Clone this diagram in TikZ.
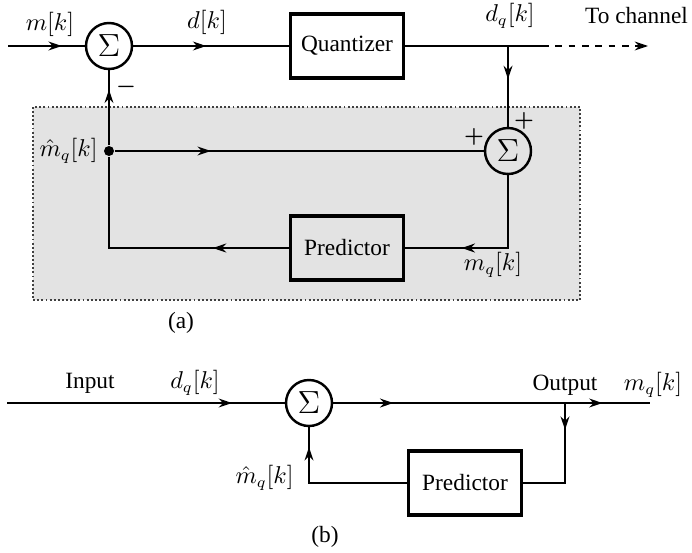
\documentclass[tikz,border=0pt]{standalone}
\usepackage{amsmath}
\usepackage{fontspec}
\setmainfont{Liberation Serif}
\usetikzlibrary{arrows.meta,decorations.markings}

\begin{document}
\begin{tikzpicture}[x=0.45pt, y=-0.45pt, line width=0.85pt, font=\fontsize{10.5}{12.5}\selectfont,
      box/.style={draw, rectangle, line width=1.6pt, minimum width=51pt, minimum height=29pt, text centered},
      sum/.style={draw, circle, line width=1.1pt, minimum size=20.7pt, inner sep=0pt, font=\fontsize{14}{16}\selectfont},
      tap/.style={circle, fill, inner sep=0pt, minimum size=4.5pt},
      sign/.style={font=\fontsize{10}{12}\selectfont\bfseries, inner sep=0pt},
      midarr/.style={postaction={decorate}, decoration={markings, mark=at position #1 with {\arrow{Stealth[length=6pt, width=4pt]}}}},
      twoarr/.style 2 args={postaction={decorate}, decoration={markings,
        mark=at position #1 with {\arrow{Stealth[length=6pt, width=4pt]}},
        mark=at position #2 with {\arrow{Stealth[length=6pt, width=4pt]}}}}]
      \useasboundingbox (0,0) rectangle (692,552);
      \fill[black!11, draw=black!75, densely dotted] (33,107) rectangle (580,300);

      \node (sumA) [sum] at (109,46) {$\Sigma$};
      \node (quant) [box] at (347,46) {Quantizer};
      \node (sumB) [sum] at (508,151) {$\Sigma$};
      \node (predA) [box] at (347,248) {Predictor};
      \node (tapA) [tap] at (109,151) {};
      \coordinate (inA) at (8,46);
      \coordinate (splitA) at (508,46);
      \coordinate (dashA) at (542,46);
      \coordinate (outA) at (648,46);
      \coordinate (cornerA) at (508,248);
      \coordinate (cornerB) at (109,248);

      \draw[midarr=0.7] (inA) -- (sumA);
      \draw[midarr=0.47] (sumA) -- (quant);
      \draw (quant) -- (dashA);
      \draw[dashed, -{Stealth[length=6pt, width=4pt]}] (dashA) -- (outA);
      \draw[midarr=0.41] (splitA) -- (sumB);
      \draw[midarr=0.74] (tapA) -- (sumA);
      \draw[midarr=0.26] (tapA) -- (sumB);
      \draw[midarr=0.68] (sumB) -- (cornerA) -- (predA);
      \draw[midarr=0.28] (predA) -- (cornerB) -- (tapA);

      \node at (50,24) {$m[k]$};
      \node at (207,22) {$d[k]$};
      \node at (510,16) {$d_q[k]$};
      \node [anchor=east, inner sep=1pt] at (691,16) {To channel};
      \node [sign] at (126,87) {$\boldsymbol{-}$};
      \node [left, inner sep=2pt] at (tapA.west) {$\hat{m}_q[k]$};
      \node [sign] at (474,137) {$\boldsymbol{+}$};
      \node [sign] at (524,121) {$\boldsymbol{+}$};
      \node at (493,265) {$m_q[k]$};
      \node at (181,323) {(a)};

      \node (sumC) [sum] at (309,403) {$\Sigma$};
      \node (predB) [box] at (465,483) {Predictor};
      \coordinate (inB) at (7,403);
      \coordinate (splitB) at (565,403);
      \coordinate (outB) at (650,403);
      \coordinate (cornerC) at (565,483);
      \coordinate (cornerD) at (309,483);

      \draw[midarr=0.81] (inB) -- (sumC);
      \draw[twoarr={0.19}{0.85}] (sumC) -- (outB);
      \draw[midarr=0.22] (splitB) -- (cornerC) -- (predB);
      \draw[midarr=0.87] (predB) -- (cornerD) -- (sumC);

      \node at (90,383) {Input};
      \node at (195,383) {$d_q[k]$};
      \node at (565,385) {Output};
      \node at (653,385) {$m_q[k]$};
      \node [anchor=east] at (302,478) {$\hat{m}_q[k]$};
      \node at (325,537) {(b)};
    \end{tikzpicture}
\end{document}
